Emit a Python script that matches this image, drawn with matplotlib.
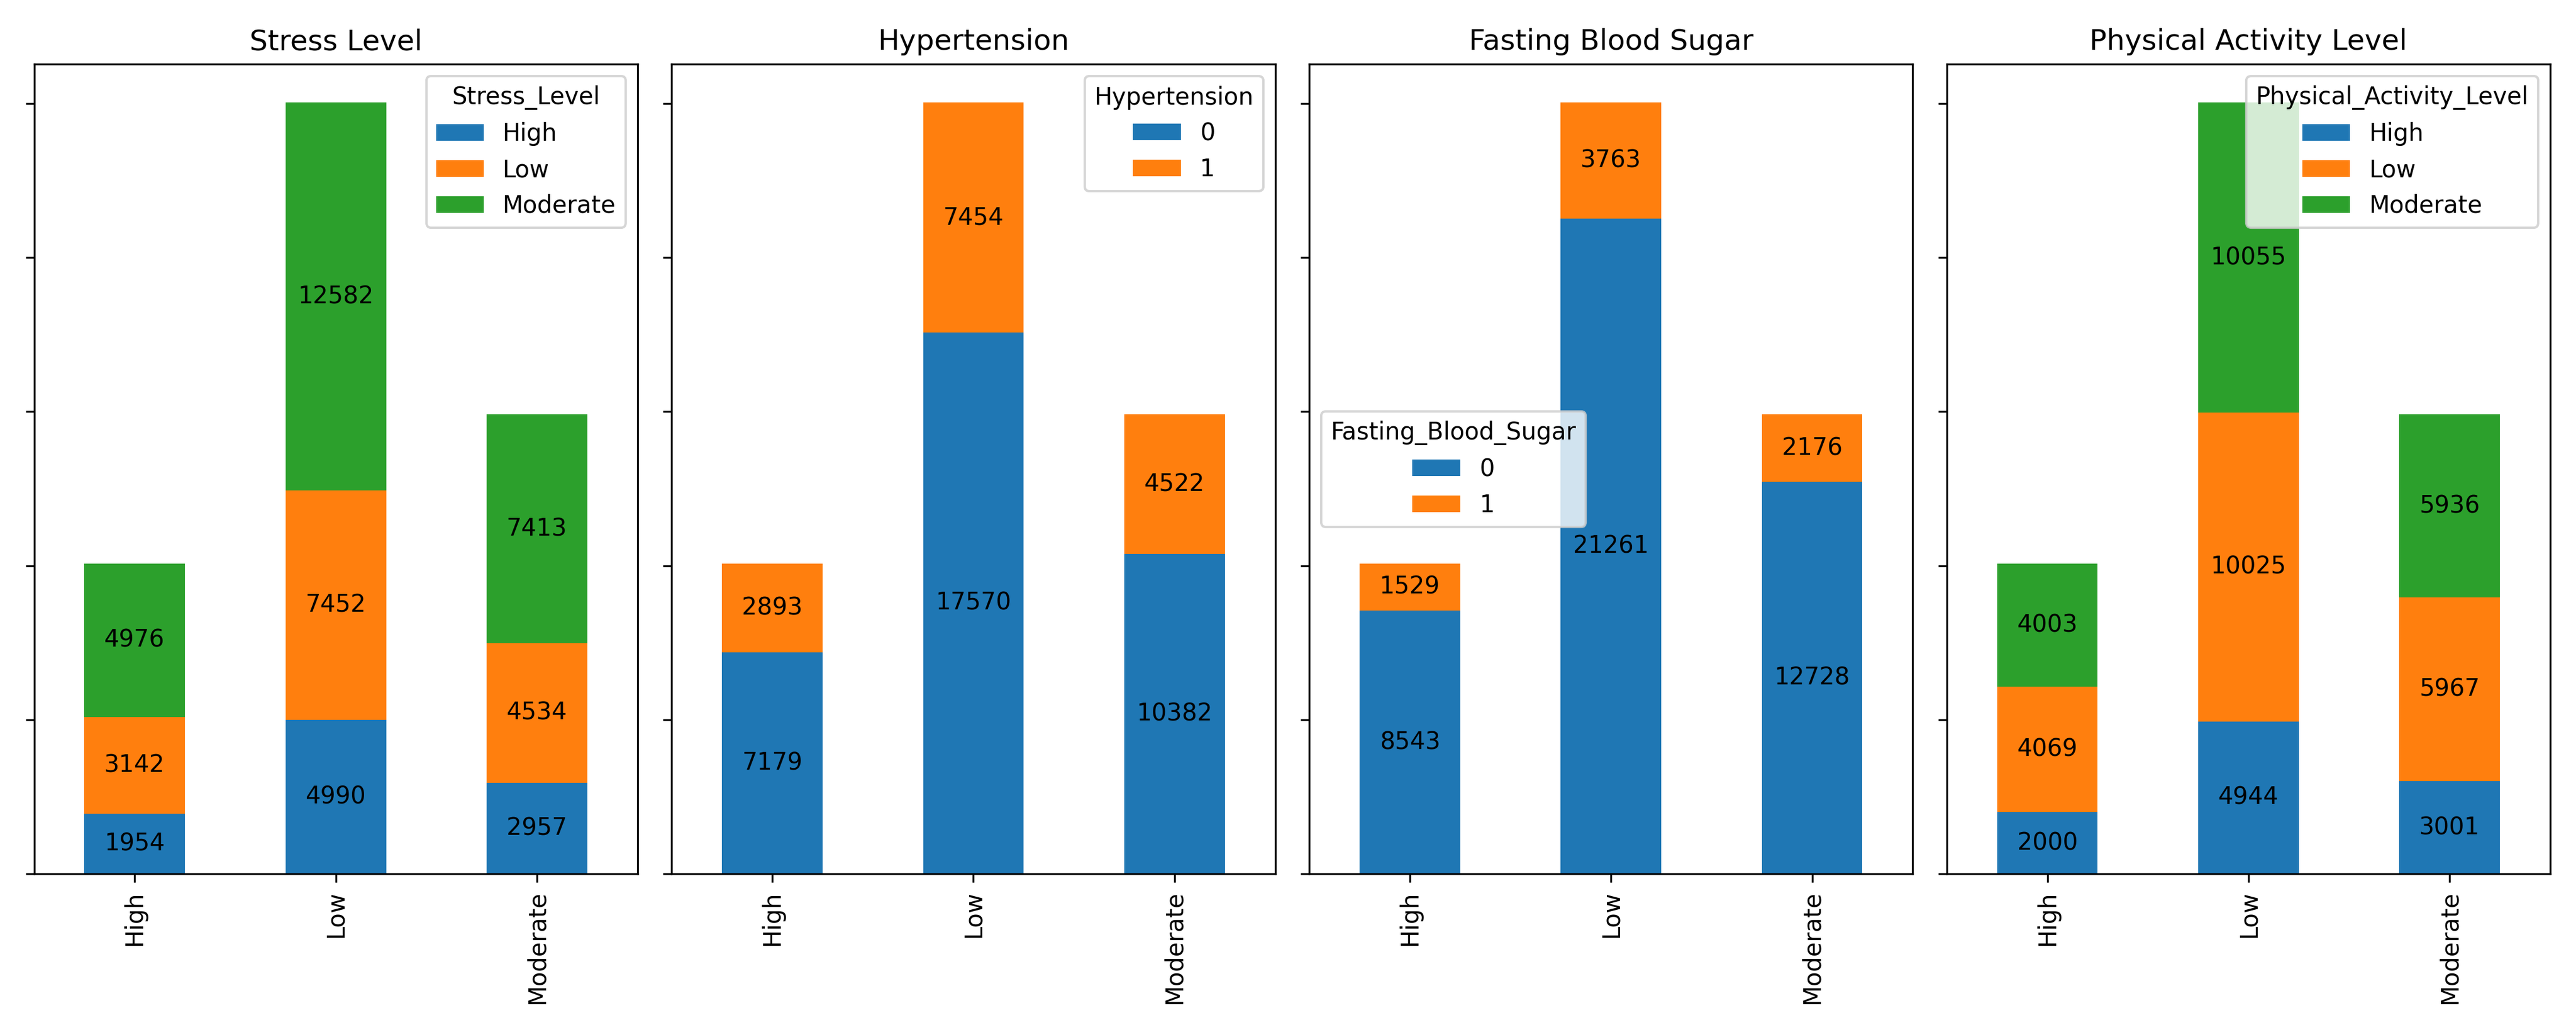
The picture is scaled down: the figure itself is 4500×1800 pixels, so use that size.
import numpy as np
import matplotlib.pyplot as plt

categories = ["High", "Low", "Moderate"]

stress_labels = ["High", "Low", "Moderate"]
stress_vals = [[1954, 4990, 2957], [3142, 7452, 4534], [4976, 12582, 7413]]

hyper_labels = ["0", "1"]
hyper_vals = [[7179, 17570, 10382], [2893, 7454, 4522]]

sugar_labels = ["0", "1"]
sugar_vals = [[8543, 21261, 12728], [1529, 3763, 2176]]

activity_labels = ["High", "Low", "Moderate"]
activity_vals = [[2000, 4944, 3001], [4069, 10025, 5967], [4003, 10055, 5936]]

panels = [
    ("Stress Level", "Stress_Level", stress_labels, stress_vals, "upper right"),
    ("Hypertension", "Hypertension", hyper_labels, hyper_vals, "upper right"),
    ("Fasting Blood Sugar", "Fasting_Blood_Sugar", sugar_labels, sugar_vals, "center left"),
    ("Physical Activity Level", "Physical_Activity_Level", activity_labels, activity_vals, "upper right"),
]
colors = ["#1f77b4", "#ff7f0e", "#2ca02c"]

fig, axes = plt.subplots(1, 4, figsize=(15, 6), sharey=True)
x = np.arange(len(categories))
for ax, (title, legtitle, labels, vals, loc) in zip(axes, panels):
    bottom = np.zeros(len(categories))
    for i, (lab, v) in enumerate(zip(labels, vals)):
        bars = ax.bar(x, v, 0.5, bottom=bottom, color=colors[i], label=lab)
        ax.bar_label(bars, labels=[str(n) for n in v], label_type="center")
        bottom += np.array(v)
    ax.set_xticks(x)
    ax.set_xticklabels(categories, rotation=90)
    ax.set_xlim(-0.5, 2.5)
    ax.set_title(title)
    ax.tick_params(axis="y", labelleft=False)
    ax.legend(title=legtitle, loc=loc)

plt.tight_layout()
plt.savefig("out.png", dpi=300)
